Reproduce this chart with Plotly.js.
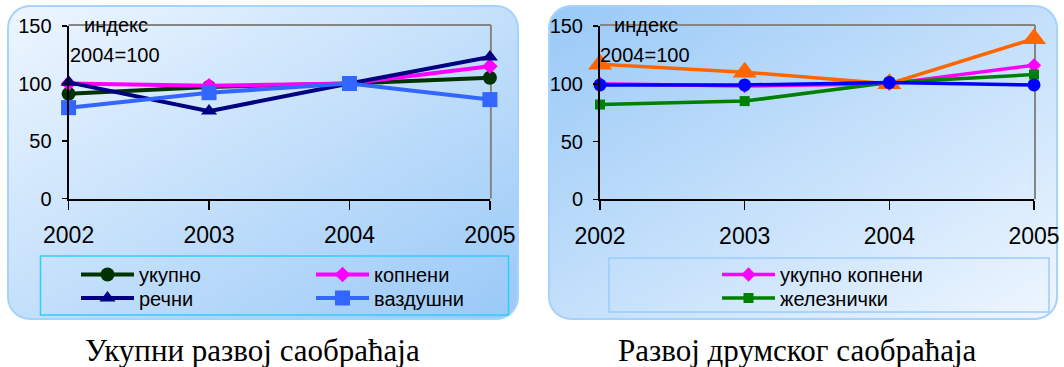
<!DOCTYPE html>
<html><head><meta charset="utf-8">
<script src="https://cdn.plot.ly/plotly-3.0.1.min.js"></script>
<style>html,body{margin:0;padding:0;background:#fff}#chart{width:1064px;height:367px}</style>
</head><body><div id="chart"></div>
<script>
// ---- data ----
const years = [2002, 2003, 2004, 2005];
const yTicks = [0, 50, 100, 150];
// left chart
const ukupno = [91, 97, 100, 105];
const kopneni = [100, 98, 100, 115];
const recni = [101, 76, 100, 123];
const vazdusni = [79, 92, 100, 86];
// right chart
const ukupnoKopneni = [100, 98, 100, 116];
const zeleznicki = [82, 85, 101, 108];
const drumski = [117, 110, 100, 139];
const ostali = [99, 99, 101, 99];
const leftNames = ['укупно', 'копнени', 'речни', 'ваздушни'];
const rightNames = ['укупно копнени', 'железнички', 'друмски', 'остали'];
const leftTitle = 'Укупни развој саобраћаја';
const rightTitle = 'Развој друмског саобраћаја';
const axisNote = ['индекс', '2004=100'];

// ---- helpers ----
const W = 1064, H = 367;
const px = x => x / W;
const py = y => 1 - y / H;
const SANS = 'Liberation Sans, Arial, sans-serif';
const SERIF = 'Liberation Serif, Times New Roman, serif';

function bg(c1, c2, stroke, w, h) {
  const svg = `<svg xmlns="http://www.w3.org/2000/svg" width="${w}" height="${h}" viewBox="0 0 ${w} ${h}" preserveAspectRatio="none">` +
    `<defs><linearGradient id="g" x1="0" y1="0" x2="1" y2="1"><stop offset="0" stop-color="${c1}"/><stop offset="1" stop-color="${c2}"/></linearGradient></defs>` +
    `<rect x="1" y="1" width="${w - 2}" height="${h - 2}" rx="22" ry="22" fill="url(#g)" stroke="${stroke}" stroke-width="2"/></svg>`;
  return 'data:image/svg+xml;charset=utf-8,' + encodeURIComponent(svg);
}

function tr(y, name, color, symbol, size, xa, ya, legend, show, lw) {
  return {
    type: 'scatter', mode: 'lines+markers', x: years, y: y, name: name,
    xaxis: xa, yaxis: ya, legend: legend, showlegend: show, cliponaxis: false,
    line: {color: color, width: lw},
    marker: {color: color, symbol: symbol, size: size, line: {width: 0}},
    hoverinfo: 'skip'
  };
}

const traces = [
  tr(ukupno, leftNames[0], '#003300', 'circle', 14, 'x', 'y', 'legend', true, 4),
  tr(kopneni, leftNames[1], '#FF00FF', 'diamond', 12, 'x', 'y', 'legend2', true, 4),
  tr(recni, leftNames[2], '#000080', 'triangle-up', 14, 'x', 'y', 'legend3', true, 4),
  tr(vazdusni, leftNames[3], '#3366FF', 'square', 15, 'x', 'y', 'legend4', true, 4),
  tr(ukupnoKopneni, rightNames[0], '#FF00FF', 'diamond', 11, 'x2', 'y2', 'legend5', true, 3.5),
  tr(zeleznicki, rightNames[1], '#008000', 'square', 10, 'x2', 'y2', 'legend6', true, 3.5),
  tr(drumski, rightNames[2], '#FF6600', 'triangle-up', 21, 'x2', 'y2', 'legend', false, 3.5),
  tr(ostali, rightNames[3], '#0000FF', 'circle', 13, 'x2', 'y2', 'legend', false, 3.5)
];

function xax(d0, d1, anchor) {
  return {
    domain: [px(d0), px(d1)], anchor: anchor, range: [2002, 2005],
    tickmode: 'array', tickvals: years, ticktext: years.map(String),
    showline: true, linecolor: '#000', linewidth: 2, mirror: false,
    ticks: 'outside', ticklen: 9, tickwidth: 1.5, tickcolor: '#000',
    tickfont: {family: SANS, size: 23, color: '#000'}, ticklabelstandoff: 6,
    showgrid: false, zeroline: false, fixedrange: true
  };
}
function yax(top, bottom, anchor) {
  return {
    domain: [py(bottom), py(top)], anchor: anchor, range: [0, 150],
    tickmode: 'array', tickvals: yTicks, ticktext: yTicks.map(String),
    showline: true, linecolor: '#000', linewidth: 2,
    ticks: 'outside', ticklen: 5, tickwidth: 1.5, tickcolor: '#000',
    tickfont: {family: SANS, size: 20, color: '#000'}, ticklabelstandoff: 6,
    showgrid: false, zeroline: false, fixedrange: true
  };
}

function leg(x, y) {
  return {
    x: px(x), y: py(y), xanchor: 'left', yanchor: 'middle', xref: 'paper', yref: 'paper',
    bgcolor: 'rgba(0,0,0,0)', borderwidth: 0, itemwidth: 53,
    font: {family: SANS, size: 20, color: '#000'}, itemclick: false, itemdoubleclick: false
  };
}

const L = {l: 68.6, r: 489.9, t: 26, b: 198.5};
const R = {l: 600, r: 1034, t: 26, b: 199.3};

const layout = {
  width: W, height: H, margin: {l: 0, r: 0, t: 0, b: 0},
  paper_bgcolor: '#ffffff', plot_bgcolor: 'rgba(0,0,0,0)',
  xaxis: xax(L.l, L.r, 'y'), yaxis: yax(L.t, L.b, 'x'),
  xaxis2: xax(R.l, R.r, 'y2'), yaxis2: yax(R.t, R.b, 'x2'),
  legend: leg(76, 274.5), legend2: leg(311, 274.5), legend3: leg(76, 298), legend4: leg(311, 298),
  legend5: leg(717, 274.5), legend6: leg(717, 298),
  images: [
    {source: bg('#EEF6FF', '#99C9F7', '#A6D2FB', 512, 315), xref: 'paper', yref: 'paper',
     x: px(7), y: py(5), sizex: 512 / W, sizey: 315 / H, xanchor: 'left', yanchor: 'top', sizing: 'stretch', layer: 'below'},
    {source: bg('#99C9F7', '#EEF6FF', '#A6D2FB', 510, 315), xref: 'paper', yref: 'paper',
     x: px(548), y: py(5), sizex: 510 / W, sizey: 315 / H, xanchor: 'left', yanchor: 'top', sizing: 'stretch', layer: 'below'}
  ],
  shapes: [
    {type: 'line', xref: 'paper', yref: 'paper', x0: px(L.l), x1: px(L.r + 1), y0: py(L.t - 1), y1: py(L.t - 1), line: {color: '#858585', width: 2}, layer: 'below'},
    {type: 'line', xref: 'paper', yref: 'paper', x0: px(L.r + 1), x1: px(L.r + 1), y0: py(L.t - 1), y1: py(L.b), line: {color: '#858585', width: 2}, layer: 'below'},
    {type: 'line', xref: 'paper', yref: 'paper', x0: px(R.l), x1: px(R.r + 1), y0: py(R.t - 1), y1: py(R.t - 1), line: {color: '#858585', width: 2}, layer: 'below'},
    {type: 'line', xref: 'paper', yref: 'paper', x0: px(R.r + 1), x1: px(R.r + 1), y0: py(R.t - 1), y1: py(R.b), line: {color: '#858585', width: 2}, layer: 'below'},
    {type: 'rect', xref: 'paper', yref: 'paper', x0: px(40.5), x1: px(508.5), y0: py(256), y1: py(315), line: {color: '#33CCFF', width: 1.5}},
    {type: 'rect', xref: 'paper', yref: 'paper', x0: px(609), x1: px(1049), y0: py(258), y1: py(312), line: {color: '#99CCFF', width: 1.5}}
  ],
  annotations: [
    {text: axisNote[0], xref: 'paper', yref: 'paper', x: px(82), y: py(25), xanchor: 'left', yanchor: 'middle', showarrow: false, font: {family: SANS, size: 20, color: '#000'}},
    {text: axisNote[1], xref: 'paper', yref: 'paper', x: px(68), y: py(55), xanchor: 'left', yanchor: 'middle', showarrow: false, font: {family: SANS, size: 20, color: '#000'}},
    {text: axisNote[0], xref: 'paper', yref: 'paper', x: px(612), y: py(25), xanchor: 'left', yanchor: 'middle', showarrow: false, font: {family: SANS, size: 20, color: '#000'}},
    {text: axisNote[1], xref: 'paper', yref: 'paper', x: px(598), y: py(55), xanchor: 'left', yanchor: 'middle', showarrow: false, font: {family: SANS, size: 20, color: '#000'}},
    {text: leftTitle, xref: 'paper', yref: 'paper', x: px(252), y: py(350), xanchor: 'center', yanchor: 'middle', showarrow: false, font: {family: SERIF, size: 31, color: '#000'}},
    {text: rightTitle, xref: 'paper', yref: 'paper', x: px(797), y: py(350), xanchor: 'center', yanchor: 'middle', showarrow: false, font: {family: SERIF, size: 31, color: '#000'}}
  ],
  showlegend: true
};

Plotly.newPlot('chart', traces, layout, {displayModeBar: false, staticPlot: true});
</script>
</body></html>
